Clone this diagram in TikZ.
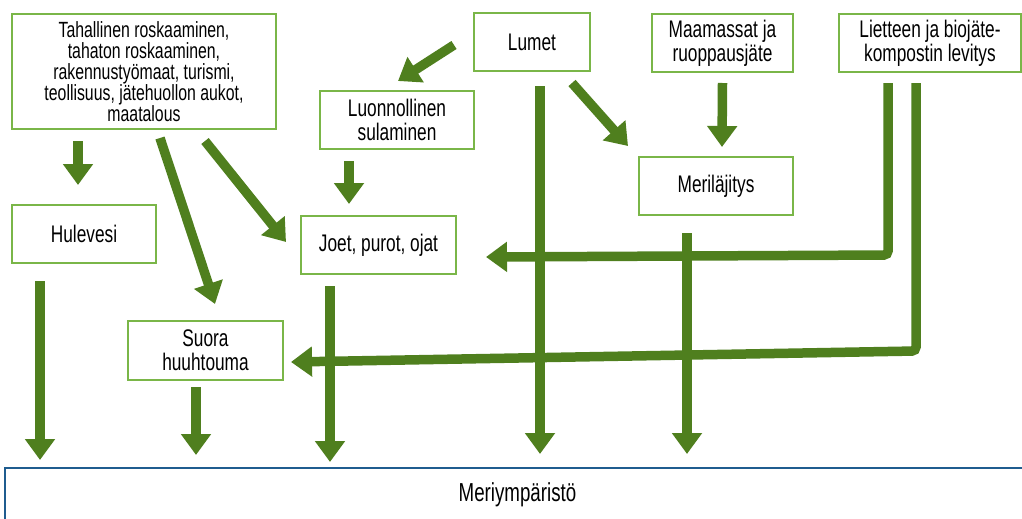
\documentclass[tikz,border=0pt]{standalone}
\usepackage{fontspec}
\setmainfont{Liberation Sans}[FakeStretch=0.72]
\usetikzlibrary{arrows.meta,calc}
\definecolor{boxgreen}{HTML}{7AB648}
\definecolor{flowgreen}{HTML}{4F7F1E}
\definecolor{seablue}{HTML}{1F5C8F}

\begin{document}
\begin{tikzpicture}[
	x=1pt, y=-1pt,
	box/.style={
		draw=boxgreen, line width=2pt, rectangle,
		minimum width=154pt, minimum height=58pt,
		align=center, inner sep=2pt,
		font=\fontsize{24}{24}\selectfont
	},
	flow/.style={draw=flowgreen, line width=9.5pt, -{Triangle[length=21pt,width=29pt]}},
	elbow/.style={flow, rounded corners=4pt},
	]
	\useasboundingbox (0,0) rectangle (1022,519);
	\node[box, minimum width=264pt, minimum height=115pt, font=\fontsize{22}{21}\selectfont] (tah) at (144,71.5)
	{Tahallinen roskaaminen,\\tahaton roskaaminen,\\rakennustyömaat, turismi,\\teollisuus, jätehuollon aukot,\\maatalous};
	\node[box, minimum width=116pt] (lum) at (532,42) {Lumet};
	\node[box, minimum width=141pt] (maa) at (722.5,43) {Maamassat ja\\ruoppausjäte};
	\node[box, minimum width=182pt] (lie) at (930,43) {Lietteen ja biojäte-\\kompostin levitys};
	\node[box] (luo) at (397,120) {Luonnollinen\\sulaminen};
	\node[box] (mer) at (716,186) {Meriläjitys};
	\node[box, minimum width=144pt] (hul) at (84,234) {Hulevesi};
	\node[box, minimum width=155pt] (joe) at (378.5,245) {Joet, purot, ojat};
	\node[box, minimum width=155pt, minimum height=59pt] (suo) at (205.5,350.5) {Suora\\huuhtouma};
	\node[draw=seablue, line width=2pt, minimum width=1025pt, minimum height=54pt,
		font=\fontsize{26}{26}\selectfont] (meri) at (517.5,495) {Meriympäristö};

	\draw[flow] ($(tah.south)+(-66,11)$) -- ($(hul.north)+(-6,-19)$);
	\draw[flow] ($(tah.south)+(16,8)$) -- ($(suo.north)+(9.5,-16)$);
	\draw[flow] ($(tah.south)+(61,11)$) -- ($(joe.west)+(-14,-3)$);
	\draw[flow] ($(lum.west)+(-19,3)$) -- ($(luo.north)+(1,-9)$);
	\draw[flow] ($(lum.south)+(40,11)$) -- ($(mer.north)+(-88,-10)$);
	\draw[flow] ($(maa.south)+(0,10)$) -- ($(mer.north)+(6,-9)$);
	\draw[flow] ($(luo.south)+(-48,11)$) -- ($(joe.north)+(-29.5,-11)$);
	\draw[elbow] ($(lie.south)+(-42,10)$) -- ++(0,172) -- ($(joe.east)+(29,12)$);
	\draw[elbow] ($(lie.south)+(-14,10)$) -- ++(0,268) -- ($(suo.east)+(7,11.5)$);

	\draw[flow] ($(hul.south)+(-44,17)$) -- ($(hul.south |- meri.north)+(-44,-7)$);
	\draw[flow] ($(suo.south)+(-9.5,6)$) -- ($(suo.south |- meri.north)+(-9.5,-12)$);
	\draw[flow] ($(joe.south)+(-48.5,11)$) -- ($(joe.south |- meri.north)+(-48.5,-5)$);
	\draw[flow] ($(lum.south)+(8,14)$) -- ($(lum.south |- meri.north)+(8,-13)$);
	\draw[flow] ($(mer.south)+(-29,17)$) -- ($(mer.south |- meri.north)+(-29,-13)$);
\end{tikzpicture}
\end{document}
